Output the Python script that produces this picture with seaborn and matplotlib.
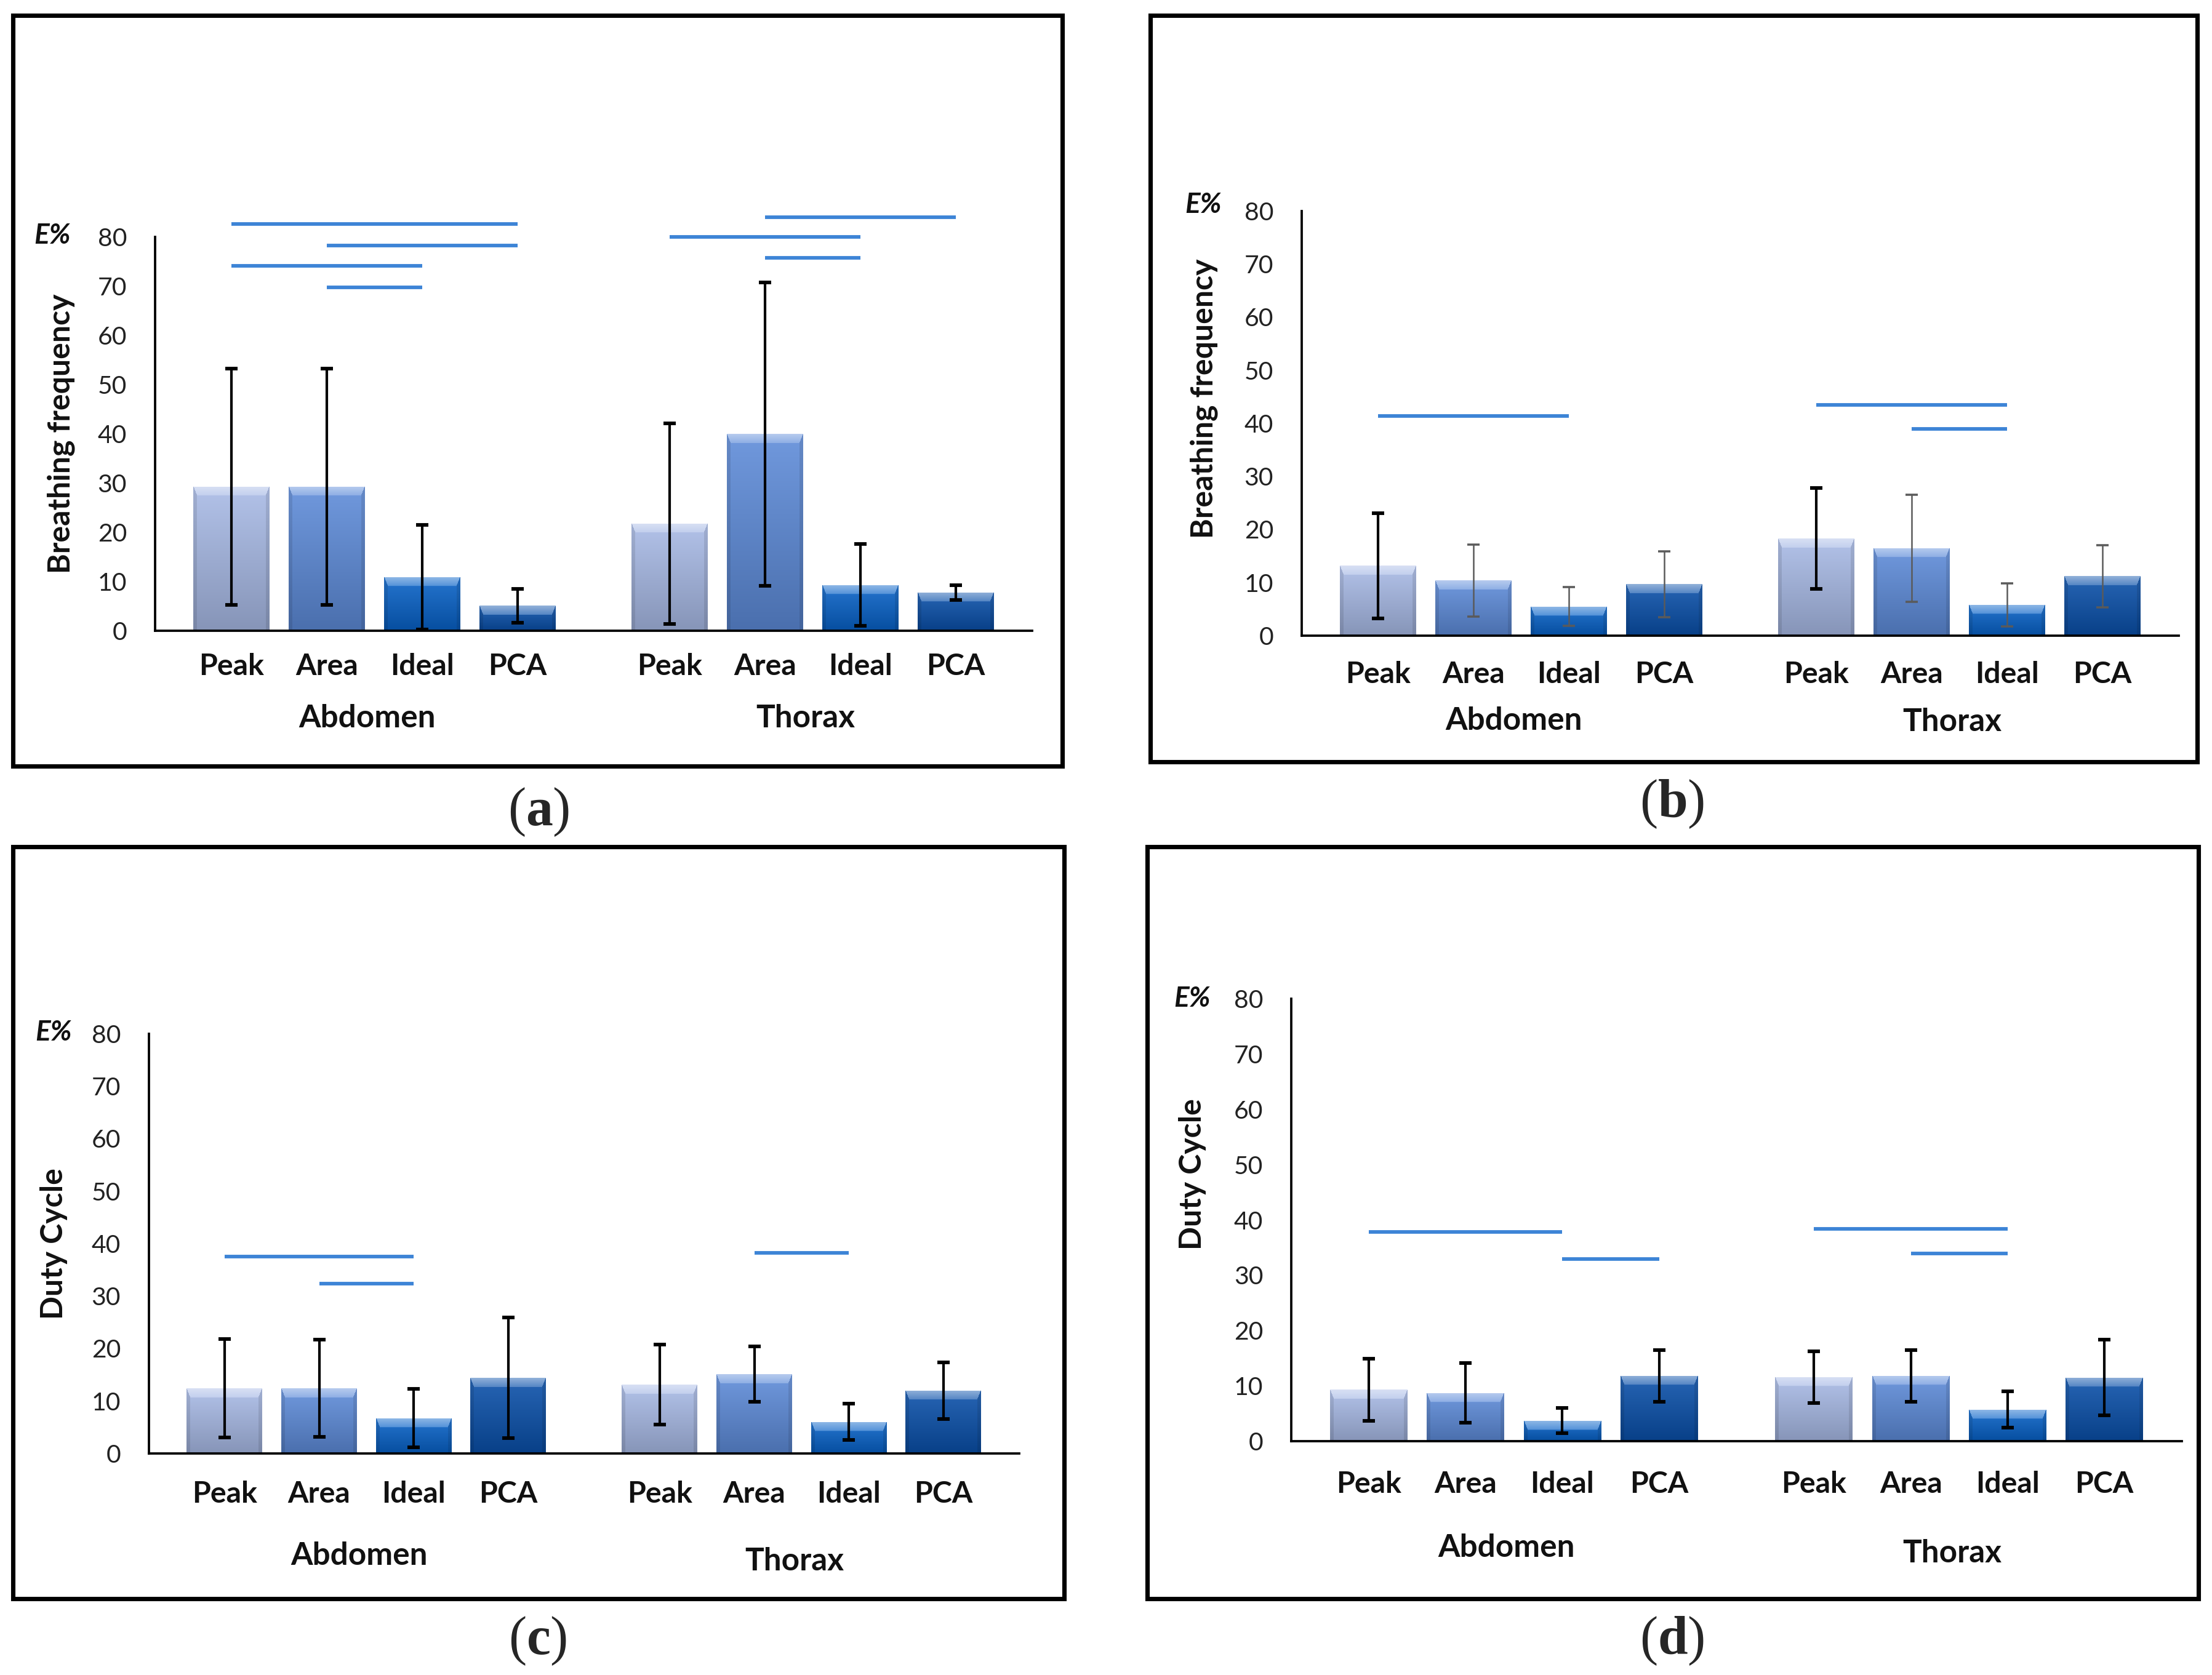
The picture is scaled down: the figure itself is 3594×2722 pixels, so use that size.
import numpy as np
import pandas as pd
import matplotlib
matplotlib.use("Agg")
import matplotlib.pyplot as plt
import seaborn as sns
from matplotlib.patches import Rectangle
from matplotlib.colors import to_rgb

# ---------------- data ----------------
methods = ["Peak", "Area", "Ideal", "PCA"]
regions = ["Abdomen", "Thorax"]

# (a) breathing frequency, E% (mean, error)
a_mean = [29.3, 29.3, 10.9, 5.1, 21.8, 40.0, 9.3, 7.8]
a_err = [24.0, 24.0, 10.6, 3.4, 20.4, 30.8, 8.3, 1.5]
# (b) breathing frequency, E%
b_mean = [13.2, 10.4, 5.5, 9.7, 18.3, 16.5, 5.8, 11.2]
b_err = [9.9, 6.75, 3.65, 6.2, 9.5, 10.1, 4.05, 5.85]
# (c) duty cycle, E%
c_mean = [12.4, 12.4, 6.7, 14.4, 13.1, 15.1, 6.0, 12.0]
c_err = [9.4, 9.25, 5.55, 11.5, 7.65, 5.25, 3.45, 5.4]
# (d) duty cycle, E%
d_mean = [9.3, 8.7, 3.7, 11.8, 11.6, 11.8, 5.7, 11.5]
d_err = [5.65, 5.4, 2.3, 4.65, 4.7, 4.7, 3.3, 6.85]

# significance bars: (region, from method, to method, height)
a_sig = [("Abdomen", "Peak", "PCA", 82.7), ("Abdomen", "Area", "PCA", 78.3),
         ("Abdomen", "Peak", "Ideal", 74.2), ("Abdomen", "Area", "Ideal", 69.8),
         ("Thorax", "Area", "PCA", 84.0), ("Thorax", "Peak", "Ideal", 80.0),
         ("Thorax", "Area", "Ideal", 75.8)]
b_sig = [("Abdomen", "Peak", "Ideal", 41.4), ("Thorax", "Peak", "Ideal", 43.5),
         ("Thorax", "Area", "Ideal", 39.0)]
c_sig = [("Abdomen", "Peak", "Ideal", 37.5), ("Abdomen", "Area", "Ideal", 32.4),
         ("Thorax", "Area", "Ideal", 38.2)]
d_sig = [("Abdomen", "Peak", "Ideal", 37.8), ("Abdomen", "Ideal", "PCA", 32.9),
         ("Thorax", "Peak", "Ideal", 38.4), ("Thorax", "Area", "Ideal", 33.9)]

yticks = [0, 10, 20, 30, 40, 50, 60, 70, 80]

# ---------------- style ----------------
palette = {"Peak": "#a8bae6", "Area": "#5d8bd9", "Ideal": "#0862c8", "PCA": "#0a50aa"}
SIG = "#3d84d6"
GRAY = "#5a5a5a"

sns.set_style("white")
plt.rcParams["font.family"] = ["Lato", "DejaVu Sans"]
plt.rcParams["mathtext.fontset"] = "custom"
plt.rcParams["mathtext.rm"] = "Liberation Serif"
plt.rcParams["mathtext.bf"] = "Liberation Serif:bold"

W, H, DPI = 3595, 2722, 300
fig = plt.figure(figsize=(W / DPI, H / DPI), dpi=DPI)
fig.patch.set_facecolor("white")

GAP = 0.6
pos = [r * (len(methods) + GAP) + i for r in range(len(regions)) for i in range(len(methods))]

panels = [
    dict(tag="a", mean=a_mean, err=a_err, sig=a_sig, ylabel="Breathing frequency",
         rect=[0.0701, 0.6234, 0.3964, 0.2351], frame=(21, 25, 1726, 1245), lab=(875, 1320),
         ylab=(-0.0912, 0.5), eoff=(-167, 2), pad=8.6, goff=(142, 142),
         errc=["black"] * 8, errw=[1.0] * 8),
    dict(tag="b", mean=b_mean, err=b_err, sig=b_sig, ylabel="Breathing frequency",
         rect=[0.5883, 0.6205, 0.3964, 0.2535], frame=(1869, 25, 3570, 1238), lab=(2717, 1307),
         ylab=(-0.0954, 0.559), eoff=(-160, 10), pad=9.8, goff=(139, 141),
         errc=["black", GRAY, GRAY, GRAY, "black", GRAY, GRAY, GRAY],
         errw=[1.0, 0.6, 0.6, 0.6, 1.0, 0.6, 0.6, 0.6]),
    dict(tag="c", mean=c_mean, err=c_err, sig=c_sig, ylabel="Duty Cycle",
         rect=[0.0673, 0.1323, 0.3933, 0.2506], frame=(21, 1376, 1729, 2598), lab=(874, 2667),
         ylab=(-0.0934, 0.5), eoff=(-155, 2), pad=10.5, goff=(167, 176),
         errc=["black"] * 8, errw=[1.0] * 8),
    dict(tag="d", mean=d_mean, err=d_err, sig=d_sig, ylabel="Duty Cycle",
         rect=[0.5836, 0.1396, 0.4025, 0.2641], frame=(1864, 1376, 3572, 2598), lab=(2717, 2667),
         ylab=(-0.0954, 0.604), eoff=(-161, 0), pad=11.5, goff=(173, 182),
         errc=["black"] * 8, errw=[1.0] * 8),
]


def shade(ax, patch):
    base = np.array(to_rgb(patch.get_facecolor()))
    x0, y0 = patch.get_x(), patch.get_y()
    w, h = patch.get_width(), patch.get_height()
    (px0, py0), (px1, py1) = ax.transData.transform([(x0, y0), (x0 + w, y0 + h)])
    nr = max(int(round(py1 - py0)), 2)
    nc = max(int(round(px1 - px0)), 2)
    t = np.linspace(1, 0, nr)[:, None, None]
    top = base + (1 - base) * 0.12
    bot = base * 0.80
    img = np.broadcast_to(bot + (top - bot) * t, (nr, nc, 3)).copy()
    r = np.arange(nr)[:, None]
    c = np.arange(nc)[None, :]
    edge = np.minimum(c, nc - 1 - c)
    side = 6
    bev = min(15, max(nr // 2, 1))
    sidemask = np.broadcast_to(edge < side, (nr, nc))
    img[sidemask] *= 0.9
    topmask = (r < bev) & (edge >= r * side / bev)
    # highlight fades slightly downward within the bevel
    fade = np.broadcast_to(1 - r / max(bev, 1), (nr, nc))
    hi_strength = 0.30 + 0.25 * fade
    for k in range(3):
        ch = img[..., k]
        ch[topmask] = base[k] + (1 - base[k]) * hi_strength[topmask]
    im = ax.imshow(img, extent=(x0, x0 + w, y0, y0 + h), aspect="auto",
                   interpolation="bilinear", origin="upper",
                   zorder=patch.get_zorder() + 0.1)
    im.set_clip_path(patch)


for p in panels:
    df = pd.DataFrame({"pos": pos, "mean": p["mean"], "method": methods * len(regions)})
    ax = fig.add_axes(p["rect"])
    sns.barplot(data=df, x="pos", y="mean", hue="method", hue_order=methods,
                palette=palette, native_scale=True, dodge=False, errorbar=None,
                legend=False, width=0.8, saturation=1, linewidth=0, ax=ax)
    xlim = (pos[0] - 0.8, pos[-1] + 0.8)
    ax.set_xlim(*xlim)
    ax.set_ylim(0, 80)
    ax.set_yticks(yticks)
    ax.set_yticklabels([str(v) for v in yticks])
    ax.set_xticks(pos)
    ax.set_xticklabels(methods * len(regions), fontweight="bold", fontsize=11.6)
    ax.tick_params(axis="y", length=0, pad=11, labelsize=9.8, colors="#222222")
    ax.tick_params(axis="x", length=0, pad=p["pad"], colors="#111111")
    sns.despine(ax=ax)
    for s in ("left", "bottom"):
        ax.spines[s].set_linewidth(0.9)
        ax.spines[s].set_color("black")
    ax.set_xlabel("")
    ax.set_ylabel(p["ylabel"], fontsize=12, fontweight="bold", color="#111111")
    ax.yaxis.set_label_coords(*p["ylab"])
    ax.grid(False)

    # bar shading
    for patch in list(ax.patches):
        shade(ax, patch)
    ax.set_xlim(*xlim)
    ax.set_ylim(0, 80)

    # error bars
    for i in range(len(pos)):
        ax.errorbar(pos[i], p["mean"][i], yerr=p["err"][i], fmt="none",
                    ecolor=p["errc"][i], elinewidth=p["errw"][i], capsize=2.3,
                    capthick=p["errw"][i] * 1.4, zorder=5)

    # significance lines
    for reg, m1, m2, yv in p["sig"]:
        ri = regions.index(reg) * len(methods)
        x1 = pos[ri + methods.index(m1)]
        x2 = pos[ri + methods.index(m2)]
        ax.plot([x1, x2], [yv, yv], color=SIG, lw=1.4, clip_on=False,
                solid_capstyle="butt", zorder=6)

    # E% marker
    ax.annotate("E%", xy=(0, 1), xycoords="axes fraction", xytext=p["eoff"],
                textcoords="offset pixels", ha="center", va="center",
                fontsize=11, fontweight="bold", fontstyle="italic", color="#111111")

    # group labels
    for k, reg in enumerate(regions):
        gc = np.mean(pos[k * len(methods):(k + 1) * len(methods)])
        ax.annotate(reg, xy=(gc, 0), xycoords=("data", "axes fraction"),
                    xytext=(-12, -p["goff"][k]), textcoords="offset pixels",
                    ha="center", va="center", fontsize=12.3, fontweight="bold",
                    color="#111111")

    # frame
    x0, y0, x1, y1 = p["frame"]
    fig.add_artist(Rectangle((x0 / W, 1 - y1 / H), (x1 - x0) / W, (y1 - y0) / H,
                             transform=fig.transFigure, fill=False, lw=1.7,
                             ec="black"))
    # panel label
    fig.text(p["lab"][0] / W, 1 - p["lab"][1] / H, r"($\mathbf{%s}$)" % p["tag"],
             ha="center", va="center", fontsize=21, family="Liberation Serif")

fig.savefig("out.png", dpi=DPI, facecolor="white")
